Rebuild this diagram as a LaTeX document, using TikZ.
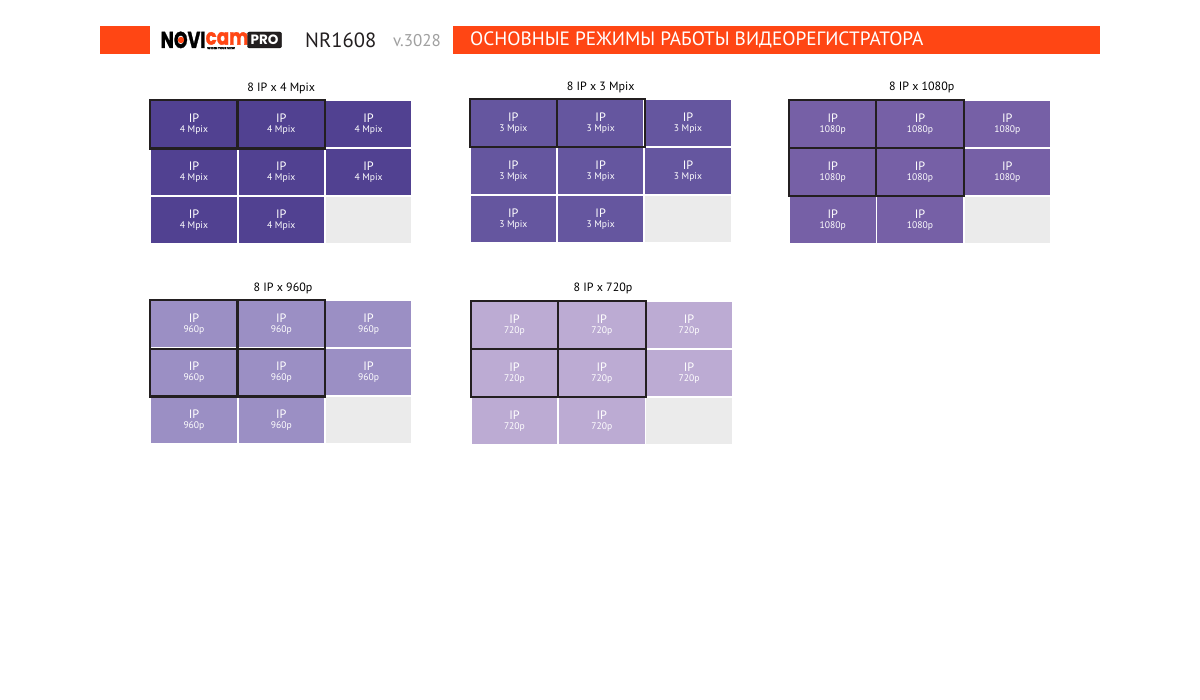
\documentclass[tikz,border=0pt]{standalone}
\usepackage{fontspec}
\setmainfont{PT Sans}
\newfontfamily\logofont{Poppins}[BoldFeatures={FakeBold=1.6}]
\newfontfamily\profont{Poppins}
\definecolor{brandorange}{HTML}{FF4614}
\definecolor{emptycell}{HTML}{EBEBEB}
\definecolor{pa}{HTML}{514191}
\definecolor{pb}{HTML}{65569F}
\definecolor{pc}{HTML}{7660A6}
\definecolor{pd}{HTML}{9B8FC4}
\definecolor{pe}{HTML}{BCABD3}
\definecolor{vergrey}{HTML}{A0A0A0}
\definecolor{framecol}{HTML}{231F20}
\newcommand{\fsz}[1]{\fontsize{#1}{#1}\selectfont}
\tikzset{
  x=1pt,y=-1pt,
  banner/.style={fill=brandorange,draw=none,minimum height=28pt,inner sep=0pt,anchor=north west},
  cellbox/.style={minimum width=85.5pt,minimum height=46pt,inner sep=0pt,anchor=north west,align=center,text=white},
  titletext/.style={font=\fsz{12},text=black,inner sep=0pt,anchor=base},
  camframe/.style={draw=framecol,line width=2.1pt},
}
% #1 prefix, #2 x, #3 y, #4 colour, #5 resolution, #6 title x, #7 title baseline, #8 title, #9 framed rows
\newcommand{\vrpanel}[9]{%
  \node[titletext] (#1title) at (#6,#7) {#8};
  \foreach \r in {0,1,2}{
    \foreach \c in {0,1,2}{
      \pgfmathsetmacro{\px}{#2+87.3*\c}
      \pgfmathsetmacro{\py}{#3+48*\r}
      \pgfmathtruncatemacro{\idx}{\r*3+\c}
      \ifnum\idx=8
        \node[cellbox,fill=emptycell] (#1c\idx) at (\px,\py) {};
      \else
        \node[cellbox,fill=#4] (#1c\idx) at (\px,\py) {\fsz{12.2}IP\\[-1.9pt]\fsz{9.6}#5};
      \fi
    }
  }
  \ifnum#9=1
    \draw[camframe] ([shift={(-0.7pt,0.9pt)}]#1c0.north west) rectangle ([shift={(1pt,-0.9pt)}]#1c1.south east);
    \draw[camframe] ([xshift=0.6pt]#1c0.north east) -- ([xshift=0.6pt]#1c0.south east);
  \else
    \draw[camframe] ([shift={(-0.7pt,0.9pt)}]#1c0.north west) rectangle ([shift={(1pt,-0.9pt)}]#1c4.south east);
    \draw[camframe] ([xshift=0.6pt]#1c0.north east) -- ([xshift=0.6pt]#1c3.south east);
    \draw[camframe] ([yshift=-1pt]#1c0.south west) -- ([yshift=-1pt]#1c1.south east);
  \fi
}
\begin{document}
\begin{tikzpicture}
\useasboundingbox (0,0) rectangle (1200,700);
\fill[white] (0,0) rectangle (1200,700);
% header
\node[banner,minimum width=50pt] (leftbar) at (100,26) {};
\node[banner,minimum width=647pt] (rightbar) at (453,26) {};
\node[anchor=west,inner sep=0pt,text=white,font=\fsz{19.3}] (headline) at (470,40) {ОСНОВНЫЕ РЕЖИМЫ РАБОТЫ ВИДЕОРЕГИСТРАТОРА};
\node[anchor=west,inner sep=0pt,text=framecol,font=\fsz{20.6}] (model) at (305,40) {NR1608};
\node[anchor=west,inner sep=0pt,text=vergrey,font=\fsz{17}] (version) at (393,41) {v.3028};
% logo
\node[anchor=base west,inner sep=0pt,font=\logofont\bfseries\fsz{23},text=black] (logoa) at (160.5,48) {\scalebox{0.76}[1]{NOVI}};
\fill[brandorange] (181,40) circle (3.2pt);
\node[anchor=base west,inner sep=0pt,font=\logofont\bfseries\fsz{22},text=brandorange] (logob) at (205.5,44.6) {\scalebox{0.83}[1]{cam}};
\node[anchor=base west,inner sep=0pt,font=\logofont\bfseries\fsz{3},text=black] (logoc) at (207,49.2) {WIDEN YOUR VIEW};
\node[anchor=center,fill=framecol,draw=black,rounded corners=2pt,minimum width=34pt,minimum height=16pt,inner sep=0pt,text=white,font=\profont\bfseries\fsz{13.5}] (logopro) at (264.5,40) {PRO};
% panels
\vrpanel{a}{151}{101.2}{pa}{4 Mpix}{281.3}{91.7}{8 IP x 4 Mpix}{1}
\vrpanel{b}{470.4}{100}{pb}{3 Mpix}{600.7}{90.7}{8 IP x 3 Mpix}{1}
\vrpanel{c}{789.8}{101}{pc}{1080p}{921.7}{90.7}{8 IP x 1080p}{2}
\vrpanel{d}{151}{301.2}{pd}{960p}{283}{291.7}{8 IP x 960p}{2}
\vrpanel{e}{471.5}{302}{pe}{720p}{603}{291.7}{8 IP x 720p}{2}
\end{tikzpicture}
\end{document}
